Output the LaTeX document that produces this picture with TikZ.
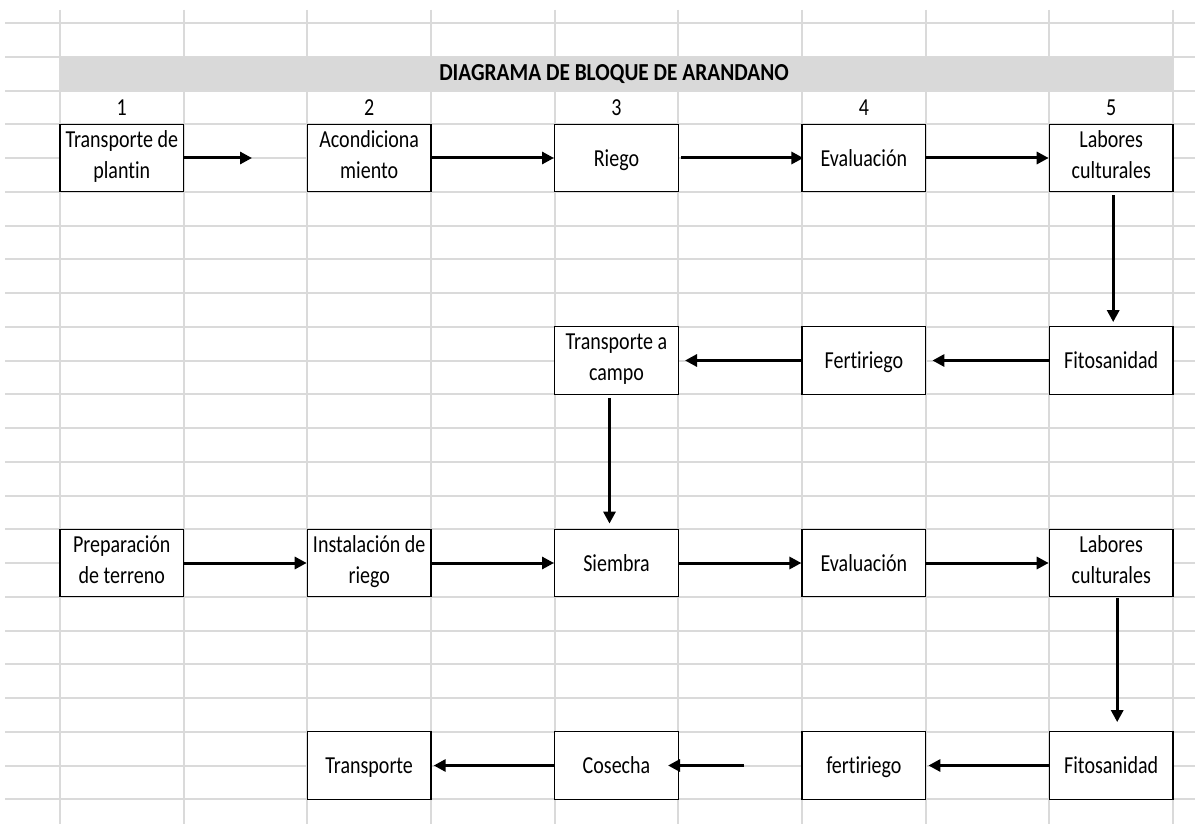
\documentclass[tikz,border=0pt]{standalone}
\usepackage{fontspec}
\setmainfont{Carlito}[FakeStretch=0.82, Ligatures=NoCommon]
\newfontfamily\titulofont{Carlito}[FakeStretch=0.875, Ligatures=NoCommon]
\usetikzlibrary{arrows.meta}
\definecolor{rejilla}{HTML}{DADADA}
\definecolor{barra}{HTML}{D9D9D9}
\newcommand\celdastrut{\rule[-7.3pt]{0pt}{31pt}}

\begin{document}
\begin{tikzpicture}[x=1pt, y=-1pt,
  bloque/.style={draw, fill=white, line width=1.3pt, minimum width=123.7pt, minimum height=67.5pt, inner sep=0pt, align=center, font=\fontsize{24.4}{31}\selectfont, execute at begin node=\celdastrut, execute at end node=\celdastrut},
  num/.style={font=\fontsize{24.4}{26}\selectfont},
  flecha/.style={line width=3pt, -{Triangle[length=12pt,width=12pt]}}]
\useasboundingbox (0,0) rectangle (1195,824);
\fill[white] (0,0) rectangle (1195,824);

% hoja
\foreach \k in {0,...,23} \draw[rejilla, line width=1.1pt] (5,{round(23+33.75*\k)}) -- (1195,{round(23+33.75*\k)});
\foreach \k in {0,...,9} \draw[rejilla, line width=1.1pt] ({round(60+123.67*\k)},10) -- ({round(60+123.67*\k)},824);
\fill[barra] (60,57.5) rectangle (1173,90.5);
\node[font=\titulofont\bfseries\fontsize{24.4}{26}\selectfont] (titulo) at (614,74) {DIAGRAMA DE BLOQUE DE ARANDANO};

\node[num] (n1) at (121.8,108) {1};
\node[num] (n2) at (369.2,108) {2};
\node[num] (n3) at (616.5,108) {3};
\node[num] (n4) at (863.9,108) {4};
\node[num] (n5) at (1111.2,108) {5};

% primera fila
\node[bloque] (tplantin) at (121.8,158) {Transporte de\\plantin};
\node[bloque] (acond) at (369.2,158) {Acondiciona\\miento};
\node[bloque] (riego) at (616.5,158) {Riego};
\node[bloque] (eval1) at (863.9,158) {Evaluación};
\node[bloque] (labores1) at (1111.2,158) {Labores\\culturales};

\node[bloque] (tcampo) at (616.5,360.5) {Transporte a\\campo};
\node[bloque] (fert1) at (863.9,360.5) {Fertiriego};
\node[bloque] (fito1) at (1111.2,360.5) {Fitosanidad};

% segunda fila
\node[bloque] (prep) at (121.8,563) {Preparación\\de terreno};
\node[bloque] (instal) at (369.2,563) {Instalación de\\riego};
\node[bloque] (siembra) at (616.5,563) {Siembra};
\node[bloque] (eval2) at (863.9,563) {Evaluación};
\node[bloque] (labores2) at (1111.2,563) {Labores\\culturales};

\node[bloque] (transp) at (369.2,765.5) {Transporte};
\node[bloque] (cosecha) at (616.5,765.5) {Cosecha};
\node[bloque] (fert2) at (863.9,765.5) {fertiriego};
\node[bloque] (fito2) at (1111.2,765.5) {Fitosanidad};

\coordinate (libre1) at (252,158);
\coordinate (libre2) at (744,765.5);

\draw[flecha] (tplantin.east) -- (libre1);
\draw[flecha] (acond.east) -- (riego.west);
\draw[flecha] ([xshift=2pt]riego.east) -- ([xshift=2pt]eval1.west);
\draw[flecha] (eval1.east) -- (labores1.west);
\draw[flecha, shorten <=3pt, shorten >=4pt] ([xshift=2pt]labores1.south) -- ([xshift=2pt]fito1.north);
\draw[flecha] (fito1.west) -- ([xshift=6pt]fert1.east);
\draw[flecha] (fert1.west) -- ([xshift=6pt]tcampo.east);
\draw[flecha, shorten <=3pt, shorten >=5pt] ([xshift=-7pt]tcampo.south) -- ([xshift=-7pt]siembra.north);

\draw[flecha] (prep.east) -- (instal.west);
\draw[flecha] (instal.east) -- (siembra.west);
\draw[flecha] (siembra.east) -- (eval2.west);
\draw[flecha] (eval2.east) -- (labores2.west);
\draw[flecha, shorten <=1pt, shorten >=9pt] ([xshift=6pt]labores2.south) -- ([xshift=6pt]fito2.north);
\draw[flecha] (fito2.west) -- ([xshift=2pt]fert2.east);
\draw[flecha] (libre2) -- ([xshift=-11pt]cosecha.east);
\draw[flecha] (cosecha.west) -- ([xshift=2pt]transp.east);
\end{tikzpicture}
\end{document}
